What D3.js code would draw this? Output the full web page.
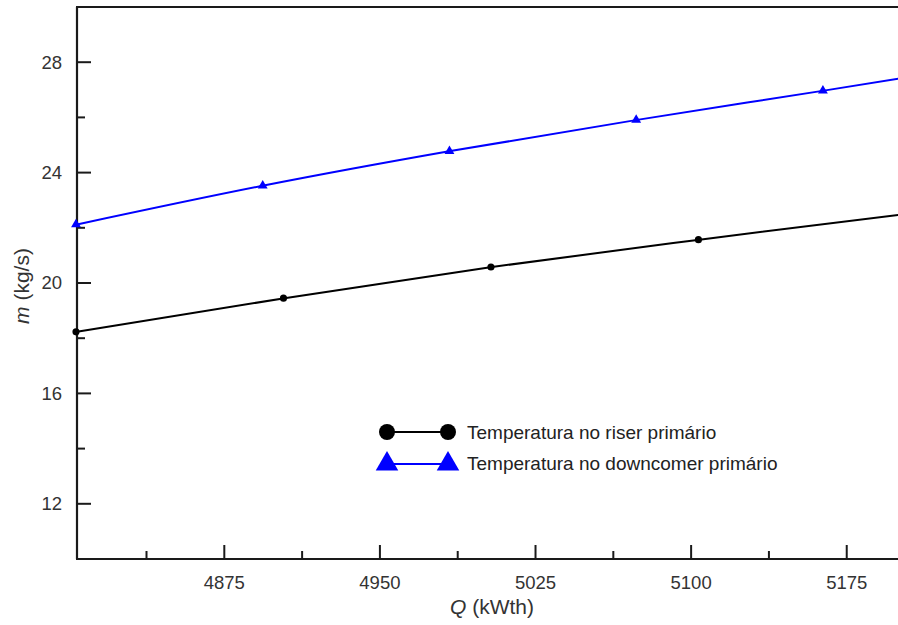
<!doctype html>
<html>
<head>
  <meta charset="utf-8">
  <title>d3</title>
  <style>
    body { margin: 0; background: #fff; }
    text { font-family: Arial, "Liberation Sans", sans-serif; }
  </style>
</head>
<body>
  <svg width="898" height="625"></svg>

  <script src="https://d3js.org/d3.v7.min.js"></script>
  <script>
    // data
    const riserQ = [4804, 4904, 5004, 5104, 5200];
    const riserM = [18.23, 19.45, 20.58, 21.57, 22.47];
    const riserMarks = 4; // first n points carry a marker

    const downQ = [4804, 4894, 4984, 5074, 5164, 5200];
    const downM = [22.12, 23.53, 24.78, 25.91, 26.97, 27.40];
    const downMarks = 5;

    const xTicks = [4875, 4950, 5025, 5100, 5175];
    const xMinor = [4837.5, 4912.5, 4987.5, 5062.5, 5137.5];
    const yTicks = [12, 16, 20, 24, 28];
    const yMinor = [14, 18, 22, 26];

    const legendLabels = ['Temperatura no riser primário', 'Temperatura no downcomer primário'];

    const svg = d3.select('svg');
    const plotL = 77, plotR = 898.6, plotT = 7, plotB = 559;

    const x = d3.scaleLinear().domain([4804, 5200]).range([plotL, plotR]);
    const y = d3.scaleLinear().domain([10, 30]).range([plotB, plotT]);

    const axisColor = '#1a1a1a';
    const labelColor = '#333';

    // frame: left, bottom, top
    svg.append('line').attr('x1', plotL).attr('x2', plotL).attr('y1', plotT).attr('y2', plotB)
      .attr('stroke', axisColor).attr('stroke-width', 2.2);
    svg.append('line').attr('x1', plotL - 1).attr('x2', 898).attr('y1', plotB).attr('y2', plotB)
      .attr('stroke', axisColor).attr('stroke-width', 2.2);
    svg.append('line').attr('x1', plotL - 1).attr('x2', 898).attr('y1', plotT).attr('y2', plotT)
      .attr('stroke', axisColor).attr('stroke-width', 2.2);

    // y axis ticks (inward)
    const yAxis = svg.append('g').attr('transform', `translate(${plotL},0)`);
    yAxis.selectAll('.maj').data(yTicks).join('line')
      .attr('x1', 0).attr('x2', 14).attr('y1', d => y(d)).attr('y2', d => y(d))
      .attr('stroke', axisColor).attr('stroke-width', 2);
    yAxis.selectAll('.min').data(yMinor).join('line')
      .attr('x1', 0).attr('x2', 8).attr('y1', d => y(d)).attr('y2', d => y(d))
      .attr('stroke', axisColor).attr('stroke-width', 2);
    svg.append('g').selectAll('text').data(yTicks).join('text')
      .attr('x', 62).attr('y', d => y(d)).attr('dy', '0.35em')
      .attr('text-anchor', 'end').attr('font-size', 18.5).attr('fill', labelColor)
      .text(d => d);

    // x axis ticks (inward)
    const xAxis = svg.append('g').attr('transform', `translate(0,${plotB})`);
    xAxis.selectAll('.maj').data(xTicks).join('line')
      .attr('x1', d => x(d)).attr('x2', d => x(d)).attr('y1', 0).attr('y2', -14)
      .attr('stroke', axisColor).attr('stroke-width', 2);
    xAxis.selectAll('.min').data(xMinor).join('line')
      .attr('x1', d => x(d)).attr('x2', d => x(d)).attr('y1', 0).attr('y2', -8)
      .attr('stroke', axisColor).attr('stroke-width', 2);
    svg.append('g').selectAll('text').data(xTicks).join('text')
      .attr('x', d => x(d)).attr('y', 583).attr('dy', '0.35em')
      .attr('text-anchor', 'middle').attr('font-size', 18.5).attr('fill', labelColor)
      .text(d => d);

    // axis titles
    const xt = svg.append('text').attr('x', 492).attr('y', 607).attr('dy', '0.35em')
      .attr('text-anchor', 'middle').attr('font-size', 21).attr('fill', labelColor);
    xt.append('tspan').attr('font-style', 'italic').text('Q');
    xt.append('tspan').text(' (kWth)');

    const yt = svg.append('text').attr('transform', 'translate(22,286) rotate(-90)')
      .attr('dy', '0.35em').attr('text-anchor', 'middle').attr('font-size', 21).attr('fill', labelColor);
    yt.append('tspan').attr('font-style', 'italic').text('m');
    yt.append('tspan').text(' (kg/s)');

    // series
    const line = d3.line().x(d => x(d[0])).y(d => y(d[1])).curve(d3.curveMonotoneX);
    const riser = riserQ.map((q, i) => [q, riserM[i]]);
    const down = downQ.map((q, i) => [q, downM[i]]);

    svg.append('path').datum(riser).attr('fill', 'none').attr('stroke', '#000')
      .attr('stroke-width', 2).attr('d', line);
    svg.append('path').datum(down).attr('fill', 'none').attr('stroke', '#0000ff')
      .attr('stroke-width', 2).attr('d', line);

    const circle = d3.symbol().type(d3.symbolCircle).size(40);
    const tri = d3.symbol().type(d3.symbolTriangle).size(42);

    svg.append('g').selectAll('path').data(riser.slice(0, riserMarks)).join('path')
      .attr('transform', d => `translate(${x(d[0]) - 1},${y(d[1])})`)
      .attr('d', circle).attr('fill', '#000');
    svg.append('g').selectAll('path').data(down.slice(0, downMarks)).join('path')
      .attr('transform', d => `translate(${x(d[0]) - 1},${y(d[1])})`)
      .attr('d', tri).attr('fill', '#0000ff');

    // legend
    const lg = svg.append('g');
    const lx1 = 387, lx2 = 448, ly = [432, 463];
    lg.append('line').attr('x1', lx1).attr('x2', lx2).attr('y1', ly[0]).attr('y2', ly[0])
      .attr('stroke', '#000').attr('stroke-width', 2);
    [lx1, lx2].forEach(cx => lg.append('circle').attr('cx', cx).attr('cy', ly[0]).attr('r', 8).attr('fill', '#000'));
    lg.append('line').attr('x1', lx1).attr('x2', lx2).attr('y1', ly[1] + 1).attr('y2', ly[1] + 1)
      .attr('stroke', '#0000ff').attr('stroke-width', 2);
    const bigTri = d3.symbol().type(d3.symbolTriangle).size(220);
    [lx1, lx2].forEach(cx => lg.append('path').attr('transform', `translate(${cx},${ly[1] + 1})`)
      .attr('d', bigTri).attr('fill', '#0000ff'));
    lg.selectAll('text').data(legendLabels).join('text')
      .attr('x', 467).attr('y', (d, i) => ly[i]).attr('dy', '0.35em')
      .attr('font-size', 19).attr('fill', '#222').text(d => d);
  </script>
</body>
</html>
